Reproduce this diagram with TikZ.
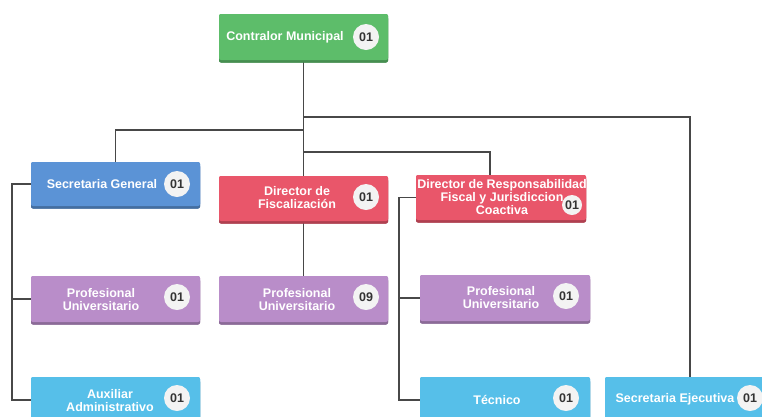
\documentclass[tikz,border=0pt]{standalone}
\usepackage{fontspec}
\setmainfont{Liberation Sans}
\newfontfamily\labfont{Liberation Sans}
\begin{document}
\begin{tikzpicture}[x=1pt,y=-1pt,
  boxbase/.style={rounded corners=2pt, inner sep=0pt, minimum height=46pt, minimum width=169pt,
     preaction={fill=#1!75!black, transform canvas={yshift=-2.5pt}}, fill=#1},
  lab/.style={text=white, font=\labfont\bfseries\fontsize{12.5}{13}\selectfont, align=center, inner sep=0pt},
  badge/.style={circle, fill=badgefill, minimum size=26pt, inner sep=0pt, text=badgetext, font=\labfont\bfseries\fontsize{12.5}{13}\selectfont},
  conn/.style={draw=linegray, line width=1.3pt}]
\definecolor{cgreen}{HTML}{5DBD6A}
\definecolor{cblue}{HTML}{5B93D6}
\definecolor{cred}{HTML}{E9566A}
\definecolor{cpurple}{HTML}{B98DC9}
\definecolor{clight}{HTML}{56BFE9}
\definecolor{badgefill}{HTML}{F3F3F3}
\definecolor{badgetext}{HTML}{333333}
\definecolor{linegray}{HTML}{484848}
\useasboundingbox (0,0) rectangle (762,416);
\fill[white] (0,0) rectangle (762,416);

% junction coordinates
\coordinate (j1) at (303.5,130);
\coordinate (j2) at (303.5,117);
\coordinate (j3) at (303.5,152);
\coordinate (j4) at (490,152);
\coordinate (l1) at (12,400);
\coordinate (r1) at (399,400);

% boxes (positions)
\node[boxbase=cgreen] (b1) at (303.5,37) {};
\node[boxbase=cblue, minimum height=44pt] (b2) at (115.5,184) {};
\node[boxbase=cred, minimum height=45pt] (b3) at (303.5,198.5) {};
\node[boxbase=cred, minimum height=45pt, minimum width=170pt] (b4) at (501,197.5) {};
\node[boxbase=cpurple] (b5) at (115.5,299) {};
\node[boxbase=cpurple] (b6) at (303.5,299) {};
\node[boxbase=cpurple, minimum width=170pt] (b7) at (505,298) {};
\node[boxbase=clight] (b8) at (115.5,400) {};
\node[boxbase=clight, minimum width=170pt] (b9) at (505,400) {};
\node[boxbase=clight, minimum width=170pt] (b10) at (690,400) {};

% connectors
\draw[conn] (b1.south) -- (b3.north);
\draw[conn] (j1) -| (b2.north);
\draw[conn] (j2) -| (b10.north);
\draw[conn] (j3) -- (j4) -- (j4 |- b4.north);
\draw[conn] (b2.west) -| (l1) -- (b8.west);
\draw[conn] (b5.west) -- (b5.west -| l1);
\draw[conn] (b3.south) -- (b6.north);
\draw[conn] (b4.west) -| (r1) -- (b9.west);
\draw[conn] (b7.west) -- (b7.west -| r1);

% redraw boxes over connector ends
\node[boxbase=cgreen] at (b1) {};
\node[boxbase=cblue, minimum height=44pt] at (b2) {};
\node[boxbase=cred, minimum height=45pt] at (b3) {};
\node[boxbase=cred, minimum height=45pt, minimum width=170pt] at (b4) {};
\node[boxbase=cpurple] at (b5) {};
\node[boxbase=cpurple] at (b6) {};
\node[boxbase=cpurple, minimum width=170pt] at (b7) {};
\node[boxbase=clight] at (b8) {};
\node[boxbase=clight, minimum width=170pt] at (b9) {};
\node[boxbase=clight, minimum width=170pt] at (b10) {};

% labels
\node[lab] (t1) at (285,37) {Contralor Municipal};
\node[badge] (n1) at (366,37) {01};
\node[lab] (t2) at (102,184) {Secretaria General};
\node[badge] (n2) at (177,184) {01};
\node[lab] (t3) at (297,198) {Director de\\Fiscalización};
\node[badge] (n3) at (366,197) {01};
\node[lab, font=\labfont\bfseries\fontsize{12.5}{11}\selectfont] (t4) at (502,197) {Director de Responsabilidad\\Fiscal y Jurisdiccion\\Coactiva};
\node[badge, minimum size=20pt] (n4) at (572,205) {01};
\node[lab] (t5) at (101,300) {Profesional\\Universitario};
\node[badge] (n5) at (177,297) {01};
\node[lab] (t6) at (297,300) {Profesional\\Universitario};
\node[badge] (n6) at (366,297) {09};
\node[lab] (t7) at (501,298) {Profesional\\Universitario};
\node[badge] (n7) at (566,296) {01};
\node[lab] (t8) at (110,401) {Auxiliar\\Administrativo};
\node[badge] (n8) at (177,398) {01};
\node[lab] (t9) at (497,400) {Técnico};
\node[badge] (n9) at (566,398) {01};
\node[lab] (t10) at (675,399) {Secretaria Ejecutiva};
\node[badge] (n10) at (750,398) {01};
\end{tikzpicture}
\end{document}
